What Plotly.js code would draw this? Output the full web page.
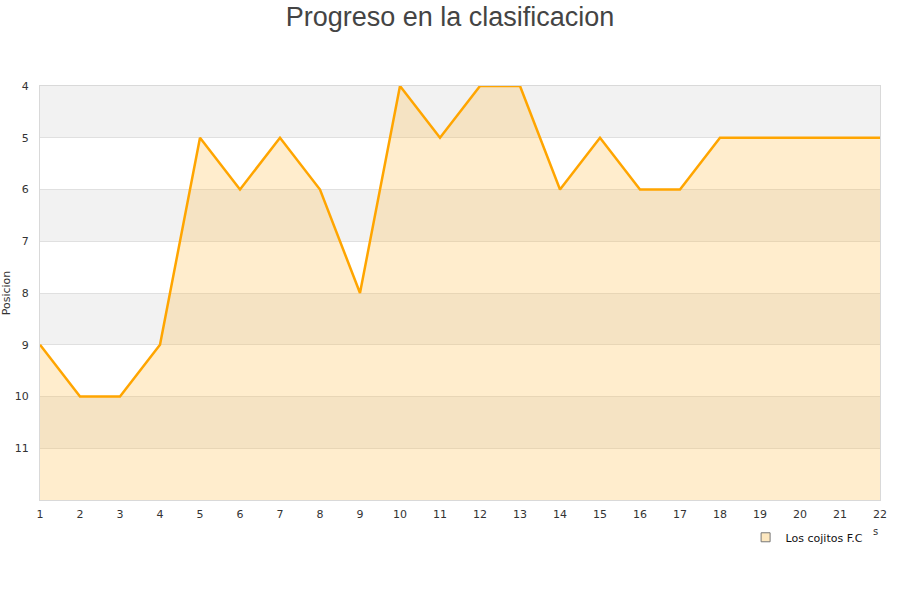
<!DOCTYPE html>
<html><head><meta charset="utf-8">
<script src="https://cdn.plot.ly/plotly-3.0.1.min.js"></script>
<style>body{margin:0;background:#fff}#c{width:900px;height:600px}</style>
</head><body><div id="c"></div>
<script>
const jornadas = [1,2,3,4,5,6,7,8,9,10,11,12,13,14,15,16,17,18,19,20,21,22];
const posiciones = [9,10,10,9,5,6,5,6,8,4,5,4,4,6,5,6,6,5,5,5,5,5];
const equipo = "Los cojitos F.C";
const yTicks = [4,5,6,7,8,9,10,11];
const yMin = 4, yMax = 12;

const bands = [];
for (let v = yMin; v < yMax; v += 2) {
  bands.push({type:'rect', xref:'paper', yref:'y', x0:0, x1:1, y0:v, y1:v+1,
    fillcolor:'#f2f2f2', line:{width:0}, layer:'below'});
}

const traces = [
  {x: jornadas, y: jornadas.map(()=>yMax), mode:'lines', line:{width:0}, hoverinfo:'skip', showlegend:false},
  {x: jornadas, y: posiciones, mode:'lines', fill:'tonexty', fillcolor:'rgba(255,190,70,0.27)',
   line:{color:'#ffa500', width:2.5}, name:equipo, showlegend:false},
  {x:[null], y:[null], mode:'markers', name:equipo,
   marker:{symbol:'square', size:9, color:'#fde8c0', line:{color:'#777', width:1}}}
];

const layout = {
  width:900, height:600,
  margin:{l:40, r:20, t:86, b:100},
  paper_bgcolor:'#fff', plot_bgcolor:'#fff',
  title:{text:'Progreso en la clasificacion', x:0.5, xanchor:'center', y:0.988, yanchor:'top',
    font:{family:'Liberation Sans, Arial, sans-serif', size:27, color:'#444'}},
  font:{family:'DejaVu Sans, Verdana, sans-serif', size:11, color:'#333'},
  xaxis:{range:[1,22], tickvals:jornadas, showgrid:false, zeroline:false,
    showline:true, linecolor:'#d9d9d9', mirror:true, ticks:'outside', ticklen:4, tickcolor:'rgba(0,0,0,0)',
    tickfont:{size:11, color:'#333'}},
  yaxis:{range:[yMax,yMin], tickvals:yTicks, showgrid:true, gridcolor:'#e0e0e0', zeroline:false,
    showline:true, linecolor:'#d9d9d9', mirror:true, ticks:'', ticklabelstandoff:8,
    tickfont:{size:11, color:'#333'},
    title:{text:'Posicion', font:{size:11, color:'#333'}, standoff:4}},
  shapes: bands,
  showlegend:true,
  legend:{x:0.84, y:-0.055, xanchor:'left', yanchor:'top', bgcolor:'rgba(0,0,0,0)',
    font:{size:11, color:'#111'}, itemwidth:30, tracegroupgap:0},
  annotations:[{xref:'paper', yref:'paper', x:1.0, y:-0.075, xanchor:'right', yanchor:'middle',
    text:'s', showarrow:false, font:{size:10, color:'#333'}}]
};
Plotly.newPlot('c', traces, layout, {displayModeBar:false, staticPlot:true});
</script></body></html>
